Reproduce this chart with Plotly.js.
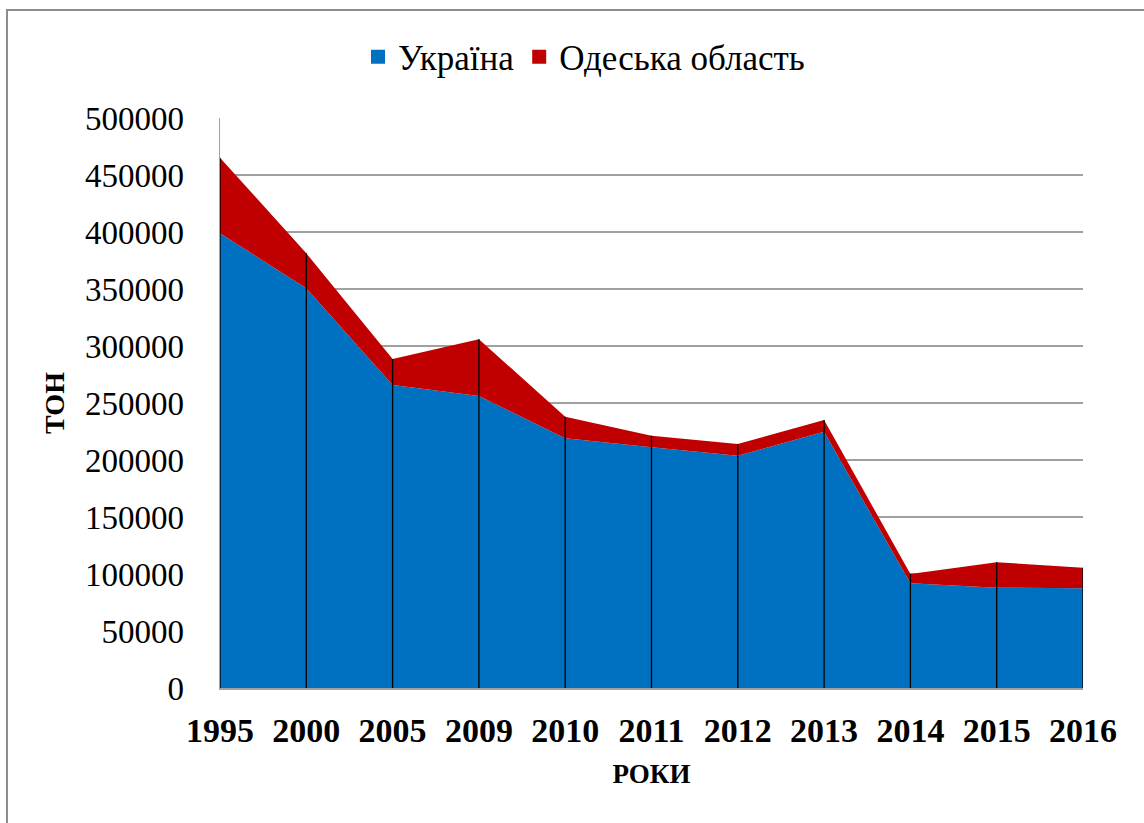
<!DOCTYPE html>
<html>
<head>
<meta charset="utf-8">
<script src="https://cdn.plot.ly/plotly-3.0.1.min.js"></script>
<style>
  html, body { margin: 0; padding: 0; background: #ffffff; }
  #wrap { position: relative; width: 1144px; height: 823px; overflow: hidden; }
  #frame { position: absolute; left: 6px; top: 9px; width: 1200px; height: 900px;
           border-top: 2px solid #8c8c8c; border-left: 2px solid #8c8c8c; pointer-events: none; }
  #chart { position: absolute; left: 0; top: 0; width: 1144px; height: 823px; }
</style>
</head>
<body>
<div id="wrap">
  <div id="chart"></div>
  <div id="frame"></div>
</div>
<script>
// Data (tonnes)
const years = ["1995", "2000", "2005", "2009", "2010", "2011", "2012", "2013", "2014", "2015", "2016"];
const ukraine = [399000, 350600, 265800, 256100, 219000, 211100, 203800, 224800, 91800, 88000, 87400];
const odesa = [66200, 30700, 22800, 49800, 19000, 10200, 10200, 10300, 8200, 22300, 18100];
const seriesNames = ["Україна", "Одеська область"];
const yTicks = [0, 50000, 100000, 150000, 200000, 250000, 300000, 350000, 400000, 450000, 500000];

const BLUE = "#0070C0";
const RED = "#C00000";
const FONT = "Liberation Serif";

// Drop lines from zero up to the stack top at every category
const totals = ukraine.map((v, i) => v + odesa[i]);
const dropX = [], dropY = [];
years.forEach((y, i) => { dropX.push(y, y, null); dropY.push(0, totals[i], null); });

const traces = [
  { x: years, y: ukraine, type: "scatter", mode: "none", stackgroup: "one",
    fill: "tozeroy", fillcolor: BLUE, line: { width: 0 }, name: seriesNames[0],
    showlegend: false, hoverinfo: "skip" },
  { x: years, y: odesa, type: "scatter", mode: "none", stackgroup: "one",
    fill: "tonexty", fillcolor: RED, line: { width: 0 }, name: seriesNames[1],
    showlegend: false, hoverinfo: "skip" },
  { x: dropX, y: dropY, type: "scatter", mode: "lines",
    line: { color: "#000000", width: 1.3 }, showlegend: false, hoverinfo: "skip" },
  // legend entries
  { x: [null], y: [null], type: "scatter", mode: "markers", name: seriesNames[0],
    marker: { symbol: "square", size: 14, color: BLUE, line: { width: 0 } } },
  { x: [null], y: [null], type: "scatter", mode: "markers", name: seriesNames[1],
    marker: { symbol: "square", size: 14, color: RED, line: { width: 0 } } }
];

const layout = {
  width: 1144, height: 823,
  paper_bgcolor: "rgba(0,0,0,0)", plot_bgcolor: "#ffffff",
  margin: { l: 220, r: 61, t: 118, b: 135, pad: 0 },
  font: { family: FONT, color: "#000000" },
  showlegend: true,
  legend: {
    orientation: "h", xref: "container", yref: "container",
    x: 584 / 1144, xanchor: "center", y: 1 - 57 / 823, yanchor: "middle",
    font: { family: FONT, size: 35, color: "#000000" },
    itemwidth: 30, traceorder: "normal", bgcolor: "rgba(0,0,0,0)"
  },
  xaxis: {
    type: "category", categoryorder: "array", categoryarray: years,
    range: [0, years.length - 1],
    showgrid: false, zeroline: false,
    showline: true, linecolor: "#a0a0a0", linewidth: 1.5,
    ticks: "", ticklabelstandoff: 12,
    tickfont: { family: FONT, size: 34, color: "#000000", weight: "bold" },
    title: { text: "<b>РОКИ</b>", standoff: 16, font: { family: FONT, size: 27, color: "#000000" } }
  },
  yaxis: {
    range: [0, 500000], tickmode: "array", tickvals: yTicks,
    ticktext: yTicks.map(String),
    showgrid: true, gridcolor: "#a0a0a0", gridwidth: 1.5,
    zeroline: false,
    showline: true, linecolor: "#a0a0a0", linewidth: 1.5,
    ticks: "", ticklabelstandoff: 28,
    tickfont: { family: FONT, size: 33, color: "#000000" },
    title: { text: "<b>ТОН</b>", standoff: 12, font: { family: FONT, size: 28, color: "#000000" } }
  }
};

Plotly.newPlot("chart", traces, layout, { displayModeBar: false, staticPlot: true });
</script>
</body>
</html>
